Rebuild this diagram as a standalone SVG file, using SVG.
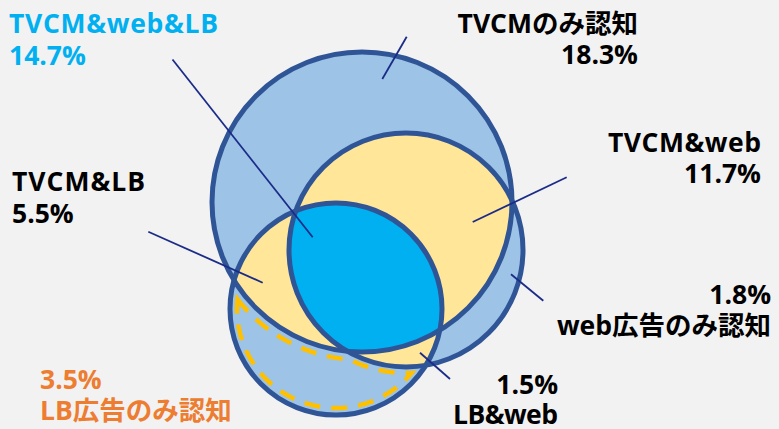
<svg xmlns="http://www.w3.org/2000/svg" width="779" height="429" viewBox="0 0 779 429">
<defs>
<style>
.fill{fill:#9DC3E6}
.y{fill:#FFE699}
.c{fill:#00B0F0}
.ol{fill:none;stroke:#2F5597;stroke-width:5}
.ld{stroke:#1B2C88;stroke-width:1.8;fill:none}
.t{font-family:"Open Sans","Noto Sans CJK JP",sans-serif;font-weight:bold;font-size:26.5px;fill:#000}
.cy{fill:#00B0F0}
.or{fill:#ED7D31}
.e{text-anchor:end}
</style>
<clipPath id="k1"><circle cx="362" cy="202" r="150"/></clipPath>
<clipPath id="k2"><circle cx="406" cy="250" r="117"/></clipPath>
</defs>
<rect width="779" height="429" fill="#F2F2F2"/>
<g id="circle-fills">
<circle class="fill" cx="362" cy="202" r="150"/>
<circle class="fill" cx="406" cy="250" r="117"/>
<circle class="fill" cx="336" cy="309" r="106"/>
<circle class="y" cx="406" cy="250" r="117" clip-path="url(#k1)"/>
<circle class="y" cx="336" cy="309" r="106" clip-path="url(#k1)"/>
<circle class="y" cx="336" cy="309" r="106" clip-path="url(#k2)"/>
<g clip-path="url(#k1)"><circle class="c" cx="336" cy="309" r="106" clip-path="url(#k2)"/></g>
</g>
<path id="lb-only-dash" d="M237.5,299.3 A158,158 0 0 0 350.1,359.6 A123,123 0 0 0 411.7,372.9 A99,99 0 0 1 237.5,299.3 Z" fill="none" stroke="#FFC000" stroke-width="4.5" stroke-dasharray="16 11"/>
<g id="tvcm"><circle class="ol" cx="362" cy="202" r="150"/></g>
<g id="web"><circle class="ol" cx="406" cy="250" r="117"/></g>
<g id="lb"><circle class="ol" cx="336" cy="309" r="106"/></g>
<g id="connectors">
<line class="ld" x1="172.5" y1="59.5" x2="312.7" y2="237.3"/>
<line class="ld" x1="406.7" y1="36.7" x2="382.3" y2="79"/>
<line class="ld" x1="566.7" y1="177.3" x2="472.7" y2="222"/>
<line class="ld" x1="148.3" y1="231.7" x2="262.7" y2="282.7"/>
<line class="ld" x1="511" y1="274.3" x2="543.3" y2="300.7"/>
<line class="ld" x1="420" y1="352.7" x2="450" y2="379"/>
</g>
<g id="label-all"><text class="t cy" x="9" y="33" textLength="209" lengthAdjust="spacing">TVCM&amp;web&amp;LB</text><text class="t cy" x="9" y="65">14.7%</text></g>
<g id="label-tvcm"><text class="t e" x="638" y="33">TVCMのみ認知</text><text class="t e" x="638" y="64">18.3%</text></g>
<g id="label-tvcm-web"><text class="t e" x="761" y="152" textLength="153" lengthAdjust="spacing">TVCM&amp;web</text><text class="t e" x="761" y="183">11.7%</text></g>
<g id="label-tvcm-lb"><text class="t" x="12" y="191" textLength="133" lengthAdjust="spacing">TVCM&amp;LB</text><text class="t" x="12" y="223">5.5%</text></g>
<g id="label-web"><text class="t e" x="771" y="304">1.8%</text><text class="t e" x="771" y="335">web広告のみ認知</text></g>
<g id="label-lb-web"><text class="t e" x="558" y="394">1.5%</text><text class="t e" x="558" y="424" textLength="105" lengthAdjust="spacing">LB&amp;web</text></g>
<g id="label-lb"><text class="t or" x="40" y="389">3.5%</text><text class="t or" x="40" y="420">LB広告のみ認知</text></g>
</svg>
